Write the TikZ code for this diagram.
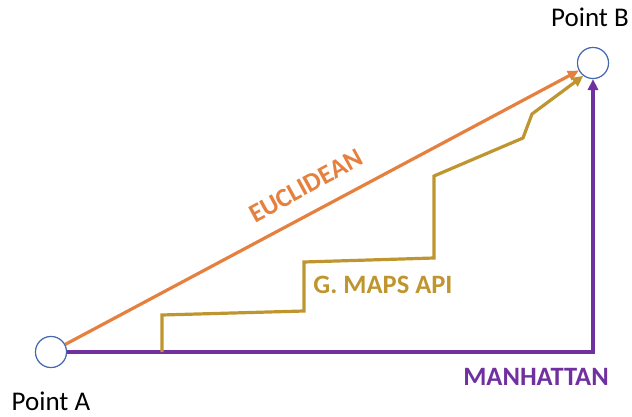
\documentclass[tikz,border=0pt]{standalone}
\usepackage{fontspec}
\setmainfont{Carlito}
\usetikzlibrary{arrows.meta}
\definecolor{eucl}{HTML}{E5803F}
\definecolor{gmap}{HTML}{BF9530}
\definecolor{manh}{HTML}{7030A0}
\definecolor{circ}{HTML}{4468B0}
\tikzset{
  pt/.style={circle,draw=circ,line width=1.1pt,minimum size=31pt,inner sep=0pt,fill=white},
  lbl/.style={font=\fontsize{27}{31}\selectfont,anchor=base,inner sep=0pt},
  blbl/.style={font=\fontsize{26.5}{31}\selectfont\bfseries,inner sep=0pt},
  tip/.style={-{Triangle[length=11pt,width=10pt]}},
}
\begin{document}
\begin{tikzpicture}[x=1pt,y=-1pt]
\useasboundingbox (0,0) rectangle (632,417);
\node[pt] (a) at (51,352) {};
\node[pt] (b) at (593,63) {};
\node[lbl] (la) at (51,410.5) {Point A};
\node[lbl] (lb) at (590,27) {Point B};
% Manhattan
\draw[manh,line width=3.4pt,tip] (a.east) -| (b.south);
% Euclidean
\draw[eucl,line width=3.2pt,tip] (a) -- (b);
% Google maps
\coordinate (g0) at (162,352);
\draw[gmap,line width=3.2pt,tip,line join=miter] (g0) -- (162,315) -- (304,311) -- (304,262) -- (434,258) -- (434,176) -- (523,138) -- (532,114) -- (b.-127);
\node[pt] at (a) {};
\node[pt] at (b) {};
\node[blbl,eucl,rotate=28.5] (le) at (306,186) {EUCLIDEAN};
\node[blbl,gmap,anchor=base] (lg) at (383,293) {G. MAPS API};
\node[blbl,manh,anchor=base] (lm) at (536,385) {MANHATTAN};
\end{tikzpicture}
\end{document}
